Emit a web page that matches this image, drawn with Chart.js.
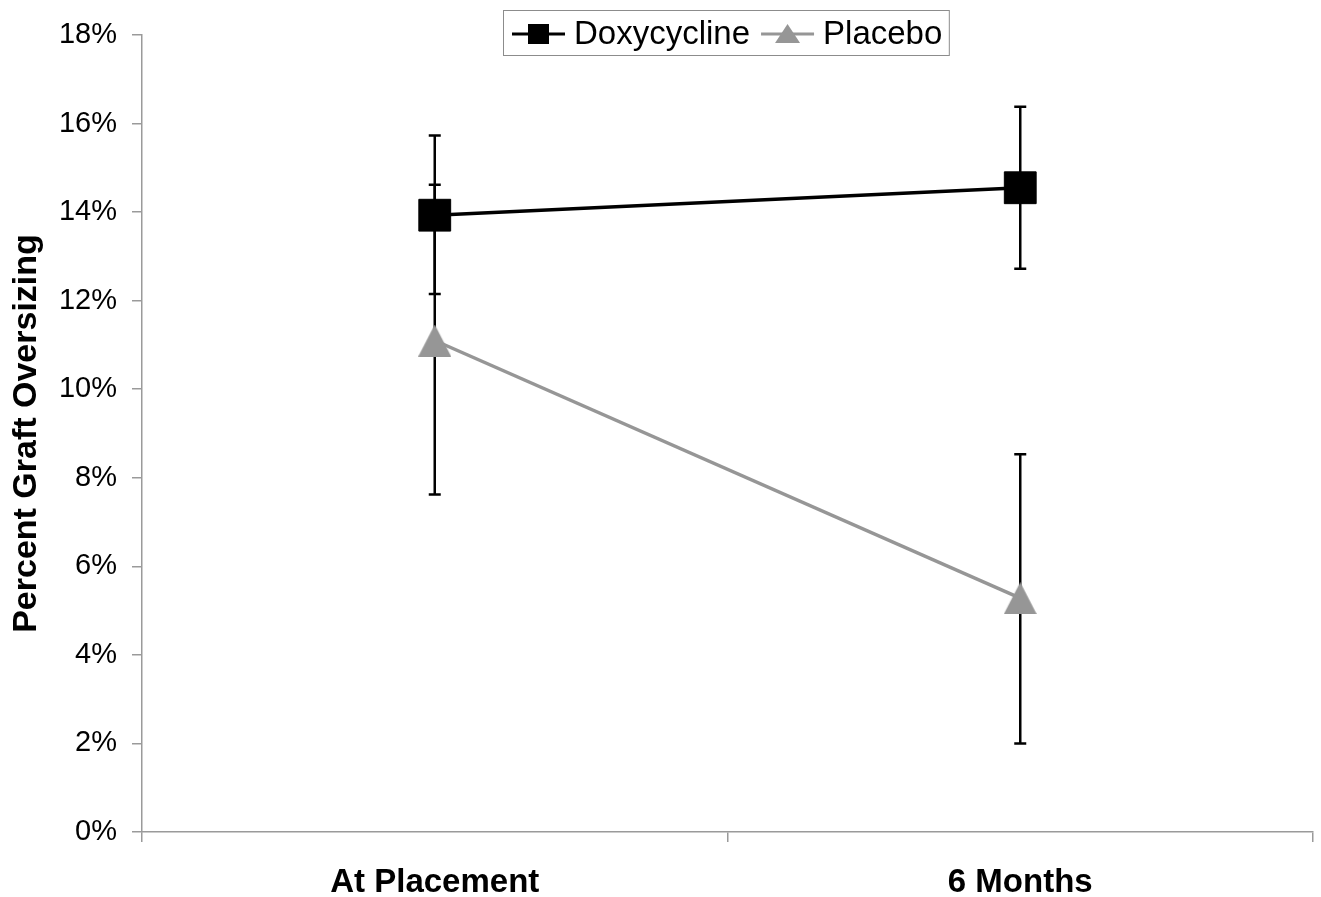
<!DOCTYPE html>
<html>
<head>
<meta charset="utf-8">
<script src="https://cdn.jsdelivr.net/npm/chart.js@4.4.1/dist/chart.umd.min.js"></script>
<style>
  html, body { margin: 0; padding: 0; background: #ffffff; }
  canvas { display: block; }
</style>
</head>
<body>
<canvas id="chart" width="1321" height="897"></canvas>
<script>
// Graft oversizing (%) at placement and after 6 months, mean with error bars
const categories = ['At Placement', '6 Months'];
const seriesNames = ['Doxycycline', 'Placebo'];

const doxyMean = [13.93, 14.55];
const doxyUpper = [15.73, 16.38];
const doxyLower = [12.15, 12.72];

const placeboMean = [11.10, 5.28];
const placeboUpper = [14.62, 8.53];
const placeboLower = [7.62, 2.00];

const yTicks = [0, 2, 4, 6, 8, 10, 12, 14, 16, 18];

const FONT = '"Liberation Sans", Arial, Helvetica, sans-serif';
const AXIS_GREY = '#9a9a9a';
const PLACEBO_GREY = '#969696';

// Triangle marker centred on its bounding box
function makeTriangle(w, h, color) {
  const c = document.createElement('canvas');
  c.width = w; c.height = h;
  const g = c.getContext('2d');
  g.fillStyle = color;
  g.beginPath();
  g.moveTo(w / 2, 0);
  g.lineTo(w, h);
  g.lineTo(0, h);
  g.closePath();
  g.fill();
  return c;
}
const triangleMarker = makeTriangle(33, 32, PLACEBO_GREY);

// Error bars are drawn under the lines and markers
const errorBarPlugin = {
  id: 'errorBars',
  beforeDatasetsDraw(chart) {
    const ctx = chart.ctx;
    const y = chart.scales.y;
    ctx.save();
    ctx.strokeStyle = '#000000';
    ctx.lineWidth = 2.5;
    ctx.lineCap = 'butt';
    chart.data.datasets.forEach((ds, di) => {
      const meta = chart.getDatasetMeta(di);
      meta.data.forEach((pt, i) => {
        const yHi = y.getPixelForValue(ds.errHigh[i]);
        const yLo = y.getPixelForValue(ds.errLow[i]);
        const x = pt.x;
        ctx.beginPath();
        ctx.moveTo(x, yHi); ctx.lineTo(x, yLo);
        ctx.moveTo(x - 6, yHi); ctx.lineTo(x + 6, yHi);
        ctx.moveTo(x - 6, yLo); ctx.lineTo(x + 6, yLo);
        ctx.stroke();
      });
    });
    ctx.restore();
  }
};

// Boxed legend at the top, each entry a short line with its marker
const boxLegendPlugin = {
  id: 'boxLegend',
  afterDraw(chart) {
    const ctx = chart.ctx;
    const area = chart.chartArea;
    ctx.save();
    ctx.font = '33px ' + FONT;
    const lineLen = 53, gapText = 9, gapItem = 11, padL = 8.5, padR = 7;
    const widths = chart.data.datasets.map(ds => ctx.measureText(ds.label).width);
    let total = padL + padR;
    widths.forEach((w, i) => { total += lineLen + gapText + w + (i < widths.length - 1 ? gapItem : 0); });
    const cx = (area.left + area.right) / 2 - 2;
    const left = Math.round(cx - total / 2) + 0.5;
    const top = 10.5, h = 45;
    ctx.fillStyle = '#ffffff';
    ctx.fillRect(left, top, total, h);
    ctx.strokeStyle = '#8c8c8c';
    ctx.lineWidth = 1;
    ctx.strokeRect(left, top, total, h);
    const midY = 34;
    let x = left + padL;
    chart.data.datasets.forEach((ds, i) => {
      ctx.strokeStyle = ds.borderColor;
      ctx.lineWidth = 3;
      ctx.beginPath();
      ctx.moveTo(x, midY); ctx.lineTo(x + lineLen, midY);
      ctx.stroke();
      const mx = x + lineLen / 2;
      ctx.fillStyle = ds.pointBackgroundColor;
      ctx.beginPath();
      if (ds.pointStyle === 'rect') {
        ctx.rect(mx - 10.5, midY - 10, 21, 20);
      } else {
        ctx.moveTo(mx, midY - 10);
        ctx.lineTo(mx + 12.5, midY + 9);
        ctx.lineTo(mx - 12.5, midY + 9);
        ctx.closePath();
      }
      ctx.fill();
      x += lineLen + gapText;
      ctx.fillStyle = '#000000';
      ctx.textBaseline = 'middle';
      ctx.textAlign = 'left';
      ctx.fillText(ds.label, x, midY + 1);
      x += widths[i] + gapItem;
    });
    ctx.restore();
  }
};

new Chart(document.getElementById('chart'), {
  type: 'line',
  data: {
    labels: categories,
    datasets: [
      {
        label: seriesNames[0],
        data: doxyMean,
        errHigh: doxyUpper,
        errLow: doxyLower,
        borderColor: '#000000',
        borderWidth: 3.5,
        pointStyle: 'rect',
        pointRadius: 22.5,
        pointBackgroundColor: '#000000',
        pointBorderColor: '#000000',
        pointBorderWidth: 1,
        tension: 0
      },
      {
        label: seriesNames[1],
        data: placeboMean,
        errHigh: placeboUpper,
        errLow: placeboLower,
        borderColor: PLACEBO_GREY,
        borderWidth: 3.5,
        pointStyle: triangleMarker,
        pointRadius: 19,
        pointBackgroundColor: PLACEBO_GREY,
        pointBorderColor: PLACEBO_GREY,
        pointBorderWidth: 1,
        tension: 0
      }
    ]
  },
  options: {
    responsive: false,
    animation: false,
    devicePixelRatio: 1,
    events: [],
    layout: { autoPadding: false, padding: { left: 0, right: 8, top: 35, bottom: 0 } },
    plugins: {
      legend: { display: false },
      tooltip: { enabled: false }
    },
    scales: {
      x: {
        type: 'category',
        offset: true,
        grid: {
          offset: true,
          drawOnChartArea: false,
          drawTicks: true,
          tickLength: 10,
          color: AXIS_GREY,
          lineWidth: 1.5
        },
        border: { color: AXIS_GREY, width: 1.5 },
        ticks: {
          color: '#000000',
          font: { family: FONT, size: 33, weight: 'bold' },
          padding: 21,
          maxRotation: 0
        },
        afterFit(scale) { scale.height = 65; }
      },
      y: {
        min: 0,
        max: 18,
        afterBuildTicks(scale) { scale.ticks = yTicks.map(v => ({ value: v })); },
        grid: {
          drawOnChartArea: false,
          drawTicks: true,
          tickLength: 10,
          color: AXIS_GREY,
          lineWidth: 1.5
        },
        border: { color: AXIS_GREY, width: 1.5 },
        ticks: {
          color: '#000000',
          font: { family: FONT, size: 29 },
          padding: 15,
          callback: v => v + '%'
        },
        title: {
          display: true,
          text: 'Percent Graft Oversizing',
          color: '#000000',
          font: { family: FONT, size: 34, weight: 'bold' },
          padding: { top: 6, bottom: 0 }
        },
        afterFit(scale) { scale.width = 142; }
      }
    }
  },
  plugins: [errorBarPlugin, boxLegendPlugin]
});
</script>
</body>
</html>
